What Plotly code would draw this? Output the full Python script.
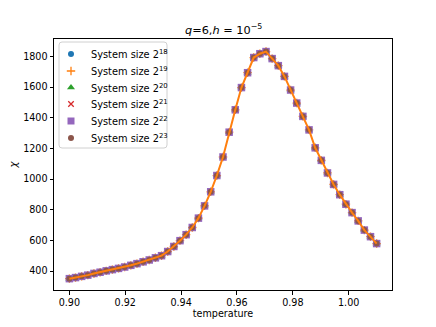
import numpy as np
import plotly.graph_objects as go

# temperatures sampled across the transition
temperature = np.linspace(0.90, 1.01, 51)

# susceptibility chi (all system sizes coincide)
chi = [
    350, 357, 365, 373, 384, 392, 401, 409, 417, 426,
    437, 448, 460, 472, 486, 500, 527, 560, 598, 637,
    684, 745, 825, 917, 1023, 1144, 1306, 1452, 1597, 1694,
    1793, 1818, 1832, 1786, 1740, 1670, 1581, 1496, 1409, 1321,
    1204, 1122, 1040, 965, 898, 836, 781, 727, 667, 624, 579,
]

size_exponents = [18, 19, 20, 21, 22, 23]
colors = ["#1f77b4", "#ff7f0e", "#2ca02c", "#d62728", "#9467bd", "#8c564b"]
symbols = ["circle", "cross-thin", "triangle-up", "x-thin", "square", "circle"]
marker_sizes = [6, 6, 7, 5.5, 7.5, 6]

FONT = "DejaVu Sans, Arial, sans-serif"

W, H = 436, 327
# the page body has a default 8px margin, so the figure sits 8px in
PAGE_OFFSET = 8
# plot area as it should appear on the page, in pixels
PX_LEFT, PX_RIGHT, PX_TOP, PX_BOTTOM = 54, 392, 39, 290


def marker_style(color, symbol, size):
    thin = symbol.endswith("-thin")
    return dict(
        symbol=symbol,
        size=size,
        color=color,
        line=dict(width=1.3 if thin else 0, color=color),
    )


fig = go.Figure()

for exp, color, symbol, size in zip(size_exponents, colors, symbols, marker_sizes):
    fig.add_trace(
        go.Scatter(
            x=temperature,
            y=chi,
            mode="markers",
            name=f"System size 2<sup>{exp}</sup>",
            marker=marker_style(color, symbol, size),
            showlegend=False,
        )
    )

# curve through the points, drawn on top
fig.add_trace(
    go.Scatter(
        x=temperature,
        y=chi,
        mode="lines",
        line=dict(color="#ff7f0e", width=2),
        showlegend=False,
    )
)

# legend drawn by hand so that the row spacing matches matplotlib
legend_x0, legend_x1, legend_y0, legend_y1 = 59, 167, 42, 148
row_y = [54, 71, 87.5, 104, 121, 138]
r = 3
box_path = (
    f"M {legend_x0 + r} {legend_y0} L {legend_x1 - r} {legend_y0} "
    f"Q {legend_x1} {legend_y0} {legend_x1} {legend_y0 + r} "
    f"L {legend_x1} {legend_y1 - r} "
    f"Q {legend_x1} {legend_y1} {legend_x1 - r} {legend_y1} "
    f"L {legend_x0 + r} {legend_y1} "
    f"Q {legend_x0} {legend_y1} {legend_x0} {legend_y1 - r} "
    f"L {legend_x0} {legend_y0 + r} "
    f"Q {legend_x0} {legend_y0} {legend_x0 + r} {legend_y0} Z"
)
fig.add_shape(
    type="path",
    path=box_path,
    xref="x2",
    yref="y2",
    line=dict(color="#d0d0d0", width=1),
    fillcolor="rgba(255,255,255,0.8)",
    layer="below",
)
for exp, color, symbol, size, ry in zip(size_exponents, colors, symbols, marker_sizes, row_y):
    fig.add_trace(
        go.Scatter(
            x=[71],
            y=[ry],
            xaxis="x2",
            yaxis="y2",
            mode="markers",
            marker=marker_style(color, symbol, min(size, 7)),
            showlegend=False,
            hoverinfo="skip",
        )
    )
    fig.add_annotation(
        x=89,
        y=ry,
        xref="x2",
        yref="y2",
        text=f"System size 2<sup>{exp}</sup>",
        showarrow=False,
        xanchor="left",
        yanchor="middle",
        font=dict(size=9.8, family=FONT, color="black"),
    )

axis_common = dict(
    showline=True,
    linecolor="black",
    linewidth=1,
    mirror=True,
    ticks="outside",
    ticklen=3.5,
    tickwidth=0.8,
    tickcolor="black",
    showgrid=False,
    zeroline=False,
    automargin=False,
    tickfont=dict(size=9.6, color="black", family=FONT),
)

fig.update_xaxes(
    range=[0.8945, 1.0155],
    tickvals=[0.90, 0.92, 0.94, 0.96, 0.98, 1.00],
    tickformat=".2f",
    title=dict(text="temperature", font=dict(size=9.6, family=FONT), standoff=3),
    **axis_common,
)
fig.update_yaxes(
    range=[276, 1914],
    tickvals=[400, 600, 800, 1000, 1200, 1400, 1600, 1800],
    title=dict(text="<i>χ</i>", font=dict(size=10, family=FONT), standoff=7),
    **axis_common,
)

fig.update_layout(
    width=W,
    height=H,
    margin=dict(
        l=PX_LEFT - PAGE_OFFSET,
        r=W - (PX_RIGHT - PAGE_OFFSET),
        t=PX_TOP - PAGE_OFFSET,
        b=H - (PX_BOTTOM - PAGE_OFFSET),
    ),
    paper_bgcolor="white",
    plot_bgcolor="white",
    font=dict(family=FONT, color="black"),
    showlegend=False,
    xaxis2=dict(
        overlaying="x", range=[PX_LEFT, PX_RIGHT], visible=False, fixedrange=True
    ),
    yaxis2=dict(
        overlaying="y", range=[PX_BOTTOM, PX_TOP], visible=False, fixedrange=True
    ),
)

# title as an annotation so that it sits where matplotlib puts it
fig.add_annotation(
    x=0.5,
    y=1 + 10 / (PX_BOTTOM - PX_TOP),
    xref="paper",
    yref="paper",
    text="<i>q</i>=6,<i>h</i> = 10<sup>−5</sup>",
    showarrow=False,
    xanchor="center",
    yanchor="middle",
    font=dict(size=11.3, family=FONT, color="black"),
)

fig.write_html("out.html")
